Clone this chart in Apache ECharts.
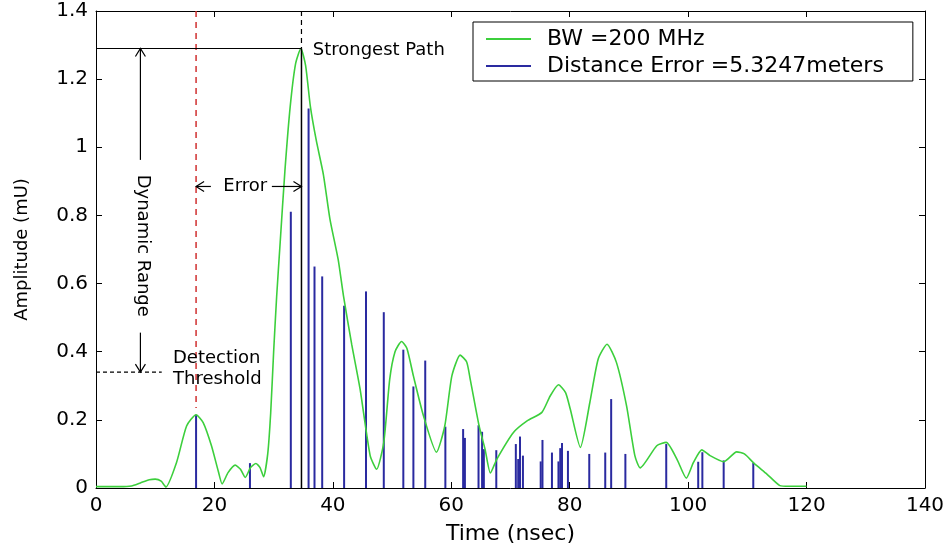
<!DOCTYPE html>
<html><head><meta charset="utf-8">
<script src="https://cdn.jsdelivr.net/npm/echarts@6/dist/echarts.min.js"></script>
<style>html,body{margin:0;padding:0;background:#fff}#c{width:948px;height:550px}</style>
</head><body><div id="c"></div>
<script>
// ---- data ----
const curveTime = [0,2,4,6,7.5,9,10,11,11.8,13.6,15.3,16.9,18.1,19.5,20.7,21.3,22.3,23.5,24.4,25.2,26.1,27.0,27.7,28.3,29.0,29.5,30.0,30.5,31.1,31.9,32.8,33.7,34.6,35.4,36.2,37.2,38.4,39.5,40.9,41.8,43.2,44.6,46.3,47.4,48.6,49.6,50.5,51.6,52.5,53.6,55.3,57.5,58.9,60.1,61.5,62.6,63.2,64.7,65.7,66.6,67.7,70.5,72.8,75.3,76.7,78.1,79.3,80.1,81.8,83.4,84.8,86.3,87.9,89.6,91.0,91.9,94.7,96.3,98.1,99.7,100.9,102.3,103.7,106.0,108.2,109.5,111.1,113.3,115.5,117,120];
const curveAmp = [0.004,0.004,0.004,0.006,0.015,0.024,0.026,0.02,0.003,0.075,0.182,0.215,0.192,0.124,0.046,0.012,0.045,0.067,0.055,0.031,0.06,0.072,0.06,0.033,0.1,0.22,0.4,0.56,0.72,0.93,1.12,1.245,1.29,1.24,1.12,1.02,0.92,0.79,0.67,0.563,0.42,0.29,0.095,0.055,0.134,0.319,0.40,0.43,0.41,0.329,0.212,0.105,0.182,0.329,0.39,0.37,0.319,0.182,0.114,0.044,0.085,0.163,0.197,0.222,0.27,0.303,0.28,0.231,0.119,0.251,0.378,0.422,0.368,0.241,0.095,0.059,0.124,0.134,0.085,0.029,0.075,0.112,0.095,0.077,0.106,0.1,0.073,0.041,0.007,0.005,0.005];
const stemTime = [16.9,26.0,32.9,35.9,36.9,38.2,41.9,45.6,48.6,51.9,53.6,55.6,59.0,62.0,62.3,64.6,65.2,65.5,67.6,70.9,71.3,71.6,72.1,75.1,75.4,77.0,78.1,78.4,78.7,79.7,83.3,86.0,87.0,89.4,96.3,101.7,102.4,106.0,111.0];
const stemAmp = [0.215,0.073,0.811,1.114,0.650,0.621,0.535,0.577,0.516,0.406,0.298,0.374,0.18,0.173,0.147,0.184,0.165,0.114,0.111,0.129,0.085,0.151,0.095,0.078,0.141,0.104,0.078,0.117,0.132,0.109,0.100,0.104,0.261,0.100,0.129,0.077,0.105,0.081,0.074];
const seriesNames = ['BW =200 MHz', 'Distance Error =5.3247meters'];
const axisNames = ['Time (nsec)', 'Amplitude (mU)'];
// annotation anchors (data units)
const detectionTime = 16.9, peakTime = 34.7, peakAmp = 1.29, thresholdAmp = 0.34;
const dynRangeTime = 7.5, errorAmp = 0.885;
const labels = {strongest:'Strongest Path', error:'Error', dynamic:'Dynamic Range', det1:'Detection', det2:'Threshold'};

const green = '#3ccf3c', blue = '#2a2aa0';
const FF = '"DejaVu Sans", "Liberation Sans", sans-serif';

const chart = echarts.init(document.getElementById('c'));

function txt(x, y, text, size, align, vAlign, rot) {
  return {type:'text', x:x, y:y, rotation:rot||0,
    style:{text:text, font:size+'px '+FF, fill:'#000', align:align, verticalAlign:vAlign, textAlign:align, textVerticalAlign:vAlign}};
}
function seg(p, q, st) {
  return {type:'line', shape:{x1:p[0],y1:p[1],x2:q[0],y2:q[1]}, style:Object.assign({stroke:'#000', lineWidth:1.2}, st||{})};
}
function head(p, dx, dy, px, py) {
  const L = 8, W = 5;
  return {type:'polyline', shape:{points:[[p[0]+dx*L+px*W, p[1]+dy*L+py*W],[p[0],p[1]],[p[0]+dx*L-px*W, p[1]+dy*L-py*W]]}, style:{stroke:'#000', lineWidth:1.2, fill:null}};
}

const axisCommon = {
  type:'value',
  axisLine:{show:true, onZero:false, lineStyle:{color:'#000', width:1}},
  axisTick:{show:true, inside:true, length:6, lineStyle:{color:'#000', width:1}},
  splitLine:{show:false}
};

chart.setOption({
  animation:false,
  backgroundColor:'#fff',
  grid:{left:96, right:23, top:11, bottom:61, containLabel:false},
  legend:{
    orient:'vertical', left:473, top:22, padding:[6,29,4,13], itemGap:5, itemWidth:45, itemHeight:2,
    borderColor:'#000', borderWidth:1, borderRadius:0, backgroundColor:'#fff', selectedMode:false,
    textStyle:{fontFamily:FF, fontSize:22, color:'#000', padding:[0,0,0,11]},
    data:[{name:seriesNames[0], icon:'rect', itemStyle:{color:green}}, {name:seriesNames[1], icon:'rect', itemStyle:{color:blue}}]
  },
  xAxis:[
    Object.assign({}, axisCommon, {min:0, max:140, interval:20, position:'bottom',
      name:axisNames[0], nameLocation:'middle', nameGap:35,
      nameTextStyle:{fontFamily:FF, fontSize:22, color:'#000'},
      axisLabel:{margin:8, fontFamily:FF, fontSize:20, color:'#000'}}),
    Object.assign({}, axisCommon, {min:0, max:140, interval:20, position:'top', axisLabel:{show:false}})
  ],
  yAxis:[
    Object.assign({}, axisCommon, {min:0, max:1.4, interval:0.2, position:'left',
      name:axisNames[1], nameLocation:'middle', nameGap:65,
      nameTextStyle:{fontFamily:FF, fontSize:18, color:'#000'},
      axisLabel:{margin:8, fontFamily:FF, fontSize:20, color:'#000'}}),
    Object.assign({}, axisCommon, {min:0, max:1.4, interval:0.2, position:'right', axisLabel:{show:false}})
  ],
  series:[
    {
      name:seriesNames[1], type:'custom', xAxisIndex:0, yAxisIndex:0, z:2,
      itemStyle:{color:blue},
      data: stemTime.map((t,i)=>[t, stemAmp[i]]),
      encode:{x:0, y:1},
      renderItem:(params, api)=>{
        const t = api.value(0), a = api.value(1);
        const p0 = api.coord([t,0]), p1 = api.coord([t,a]);
        return {type:'line', shape:{x1:p0[0],y1:p0[1],x2:p1[0],y2:p1[1]}, style:{stroke:blue, lineWidth:2}};
      }
    },
    {
      name:seriesNames[0], type:'line', xAxisIndex:0, yAxisIndex:0, z:3,
      data: curveTime.map((t,i)=>[t, curveAmp[i]]),
      showSymbol:false, smooth:0.2,
      lineStyle:{color:green, width:1.6}, itemStyle:{color:green}
    },
    {
      name:'annotations', type:'custom', xAxisIndex:0, yAxisIndex:0, z:4, clip:false, silent:true,
      data:[[0,0]],
      renderItem:(params, api)=>{
        const c = (t,a)=>api.coord([t,a]);
        const ch = [];
        ch.push(seg(c(detectionTime,1.4), c(detectionTime,0.235), {stroke:'#d03030', lineWidth:1.5, lineDash:[6,5]}));
        ch.push(seg(c(peakTime,1.4), c(peakTime,peakAmp), {lineDash:[5,4]}));
        ch.push(seg(c(peakTime,peakAmp), c(peakTime,0), {lineWidth:1.5}));
        ch.push(seg(c(0,peakAmp), c(peakTime,peakAmp)));
        const top = c(dynRangeTime, peakAmp), upEnd = c(dynRangeTime, 0.963);
        ch.push(seg(upEnd, top));
        ch.push(head(top, 0, 1, 1, 0));
        const dnStart = c(dynRangeTime, 0.456), bot = c(dynRangeTime, thresholdAmp);
        ch.push(seg(dnStart, bot));
        ch.push(head(bot, 0, -1, 1, 0));
        const mid = c(dynRangeTime, 0.711);
        ch.push(txt(mid[0]+2, mid[1], labels.dynamic, 18, 'center', 'middle', -Math.PI/2));
        ch.push(seg(c(0,thresholdAmp), c(11.1,thresholdAmp), {lineDash:[4,3]}));
        const d1 = c(13.0, 0.380), d2 = c(13.0, 0.319);
        ch.push(txt(d1[0], d1[1], labels.det1, 18, 'left', 'middle'));
        ch.push(txt(d2[0], d2[1], labels.det2, 18, 'left', 'middle'));
        const sp = c(36.6, 1.285);
        ch.push(txt(sp[0], sp[1], labels.strongest, 18, 'left', 'middle'));
        const eL = c(detectionTime, errorAmp), eL2 = c(19.4, errorAmp);
        ch.push(seg(eL, eL2));
        ch.push(head(eL, 1, 0, 0, 1));
        const eR1 = c(29.7, errorAmp), eR = c(peakTime, errorAmp);
        ch.push(seg(eR1, eR));
        ch.push(head(eR, -1, 0, 0, 1));
        const et = c(25.2, errorAmp);
        ch.push(txt(et[0], et[1], labels.error, 18, 'center', 'middle'));
        return {type:'group', children:ch};
      }
    }
  ]
});
</script>
</body></html>
